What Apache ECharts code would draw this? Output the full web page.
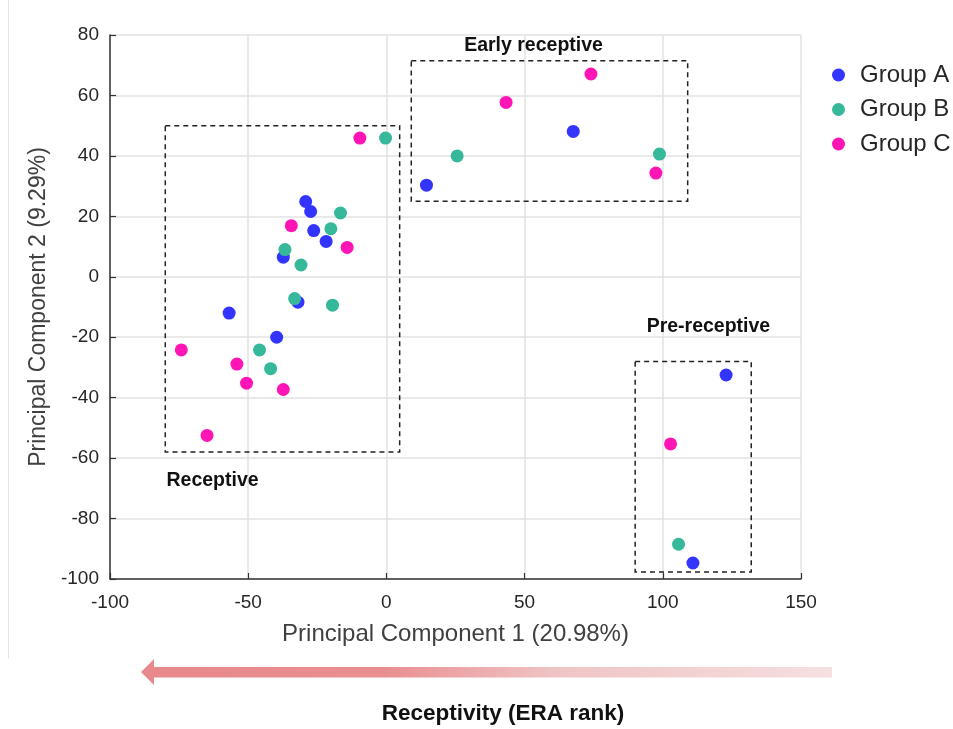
<!DOCTYPE html>
<html>
<head>
<meta charset="utf-8">
<script src="https://cdn.jsdelivr.net/npm/echarts@6/dist/echarts.min.js"></script>
<style>
  html, body { margin: 0; padding: 0; background: #fff; }
  #chart { width: 953px; height: 729px; }
</style>
</head>
<body>
<div id="chart"></div>
<script>
// PCA scores: [PC1, PC2]
const groupA = [
  [-29.2, 24.9], [-27.4, 21.6], [-26.3, 15.3], [-21.8, 11.7], [-37.3, 6.5],
  [-32.0, -8.4], [-56.9, -12.0], [-39.7, -20.0],
  [14.5, 30.3], [67.6, 48.1],
  [122.9, -32.5], [110.9, -94.7],
];
const groupB = [
  [-0.3, 45.9], [-16.6, 21.1], [-20.1, 15.9], [-36.7, 9.0], [-30.9, 3.9],
  [-33.2, -7.2], [-19.5, -9.4], [-45.9, -24.2], [-41.9, -30.4],
  [25.6, 40.0], [98.8, 40.6],
  [105.7, -88.5],
];
const groupC = [
  [-9.6, 45.9], [-34.4, 16.9], [-14.2, 9.7], [-74.2, -24.2], [-54.1, -28.9],
  [-50.6, -35.2], [-37.3, -37.3], [-64.9, -52.5],
  [43.3, 57.7], [74.0, 67.1], [97.5, 34.3],
  [102.8, -55.3],
];

// cluster boxes: [[x1, y1], [x2, y2]]
const clusterNames = ['Receptive', 'Early receptive', 'Pre-receptive'];
const clusterBoxes = [
  [[-80, 50], [4.8, -58]],
  [[9, 71.5], [109, 25]],
  [[90, -28], [132, -97.7]],
];

const font = '"Liberation Sans", Arial, Helvetica, sans-serif';
const chart = echarts.init(document.getElementById('chart'));

// where each box label sits relative to its box
const labelPos = [
  { position: [48, '100%'], offset: [0, 28] },
  { position: [123, -14], offset: [0, 0] },
  { position: [74, -34], offset: [0, 0] },
];

const boxData = clusterBoxes.map((b, i) => [
  {
    name: clusterNames[i],
    coord: b[0],
    label: Object.assign({}, labelPos[i]),
  },
  { coord: b[1] },
]);

const dot = (name, color, data, extra) => Object.assign({
  name,
  type: 'scatter',
  data,
  symbolSize: 13,
  itemStyle: { color, opacity: 1 },
  z: 3,
}, extra || {});

const option = {
  backgroundColor: '#fff',
  animation: false,
  textStyle: { fontFamily: font },
  grid: { left: 110, top: 35, right: 152, bottom: 150, containLabel: false },
  legend: {
    orient: 'vertical',
    left: 827,
    top: 58,
    itemGap: 10.5,
    itemWidth: 13,
    itemHeight: 13,
    icon: 'circle',
    textStyle: { fontSize: 24, color: '#262626', fontFamily: font, padding: [0, 0, 0, 10] },
    data: ['Group A', 'Group B', 'Group C'],
  },
  xAxis: {
    type: 'value',
    min: -100,
    max: 150,
    interval: 50,
    name: 'Principal Component 1 (20.98%)',
    nameLocation: 'middle',
    nameGap: 43,
    nameTextStyle: { fontSize: 24, color: '#404040', fontFamily: font },
    axisLine: { show: true, onZero: false, lineStyle: { color: '#333', width: 1.5 } },
    axisTick: { show: true, inside: true, length: 6, lineStyle: { color: '#333', width: 1.2 } },
    axisLabel: { fontSize: 19, color: '#262626', margin: 14, fontFamily: font },
    splitLine: { show: true, lineStyle: { color: '#e2e2e2', width: 1.5 } },
  },
  yAxis: {
    type: 'value',
    min: -100,
    max: 80,
    interval: 20,
    name: 'Principal Component 2 (9.29%)',
    nameLocation: 'middle',
    nameGap: 58,
    nameTextStyle: { fontSize: 23, color: '#404040', fontFamily: font },
    axisLine: { show: true, onZero: false, lineStyle: { color: '#333', width: 1.5 } },
    axisTick: { show: true, inside: true, length: 6, lineStyle: { color: '#333', width: 1.2 } },
    axisLabel: { fontSize: 19, color: '#262626', margin: 11, fontFamily: font },
    splitLine: { show: true, lineStyle: { color: '#e2e2e2', width: 1.5 } },
  },
  series: [
    dot('Group A', '#3434ff', groupA, {
      markArea: {
        silent: true,
        z: 1,
        itemStyle: {
          color: 'rgba(0,0,0,0)',
          borderColor: '#222',
          borderWidth: 1.5,
          borderType: [5, 4],
        },
        label: {
          show: true,
          align: 'center',
          verticalAlign: 'middle',
          fontSize: 19.5,
          fontWeight: 'bold',
          color: '#111',
          fontFamily: font,
        },
        emphasis: { disabled: true },
        data: boxData,
      },
    }),
    dot('Group B', '#36b89a', groupB),
    dot('Group C', '#ff14b6', groupC),
  ],
  graphic: [
    {
      type: 'line',
      silent: true,
      shape: { x1: 8.5, y1: 0, x2: 8.5, y2: 658 },
      style: { stroke: '#e4e4e4', lineWidth: 1 },
    },
    {
      type: 'polygon',
      silent: true,
      shape: {
        points: [
          [141, 672], [154, 659], [154, 667], [832, 667],
          [832, 677.5], [154, 677.5], [154, 685],
        ],
      },
      style: {
        fill: new echarts.graphic.LinearGradient(0, 0, 1, 0, [
          { offset: 0, color: '#e8898b' },
          { offset: 0.35, color: '#e98e90' },
          { offset: 0.6, color: '#f0c4c5' },
          { offset: 1, color: '#f6dfe0' },
        ]),
      },
    },
    {
      type: 'text',
      silent: true,
      x: 503,
      y: 714,
      style: {
        text: 'Receptivity (ERA rank)',
        align: 'center',
        verticalAlign: 'middle',
        font: 'bold 22.5px ' + font,
        fill: '#111',
      },
    },
  ],
};

chart.setOption(option);
</script>
</body>
</html>
